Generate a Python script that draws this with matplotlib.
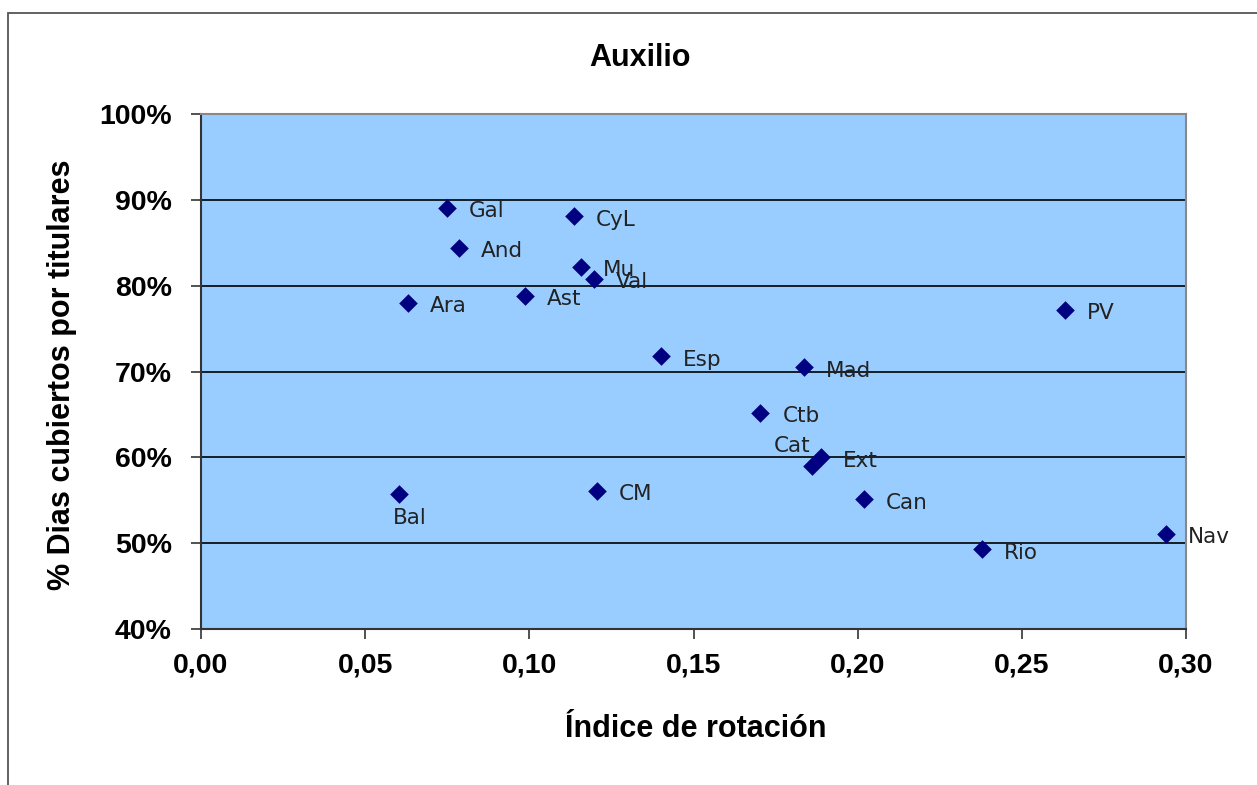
import matplotlib
matplotlib.use("Agg")
import matplotlib.pyplot as plt
from matplotlib.patches import Rectangle
from matplotlib.ticker import FuncFormatter

regions = ["Gal", "CyL", "And", "Mu", "Val", "Ast", "Ara", "PV", "Esp", "Mad",
           "Ctb", "Ext", "Cat", "Bal", "CM", "Can", "Rio", "Nav"]
rotation = [0.0749, 0.1136, 0.0786, 0.1157, 0.1197, 0.0987, 0.0630, 0.2631, 0.1401, 0.1837,
            0.1703, 0.1888, 0.1861, 0.0603, 0.1206, 0.2019, 0.2379, 0.2939]
coverage = [0.8905, 0.881, 0.844, 0.822, 0.808, 0.788, 0.780, 0.772, 0.718, 0.705,
            0.652, 0.600, 0.590, 0.557, 0.561, 0.551, 0.493, 0.511]
# label offsets in points (dx, dy, ha, va)
offsets = {"Cat": (-1, 14, "right", "center"), "Bal": (8, -17, "center", "center")}

x_ticks = [0.00, 0.05, 0.10, 0.15, 0.20, 0.25, 0.30]
y_ticks = [0.4, 0.5, 0.6, 0.7, 0.8, 0.9, 1.0]

fig = plt.figure(figsize=(12.57, 7.85), dpi=100)
ax = fig.add_axes([201/1257, 1-629/785, (1186-201)/1257, (629-114)/785])
ax.set_facecolor("#99CCFF")

ax.scatter(rotation, coverage, marker="D", s=90, color="#000080", zorder=3, linewidths=0)
for name, xv, yv in zip(regions, rotation, coverage):
    dx, dy, ha, va = offsets.get(name, (16, -2.5, "left", "center"))
    ax.annotate(name, (xv, yv), xytext=(dx, dy), textcoords="offset points",
                ha=ha, va=va, fontsize=15.5, color="#222222", family="DejaVu Sans", zorder=4)

ax.set_xlim(0, 0.30)
ax.set_ylim(0.4, 1.0)
ax.set_xticks(x_ticks)
ax.set_yticks(y_ticks)
ax.xaxis.set_major_formatter(FuncFormatter(lambda v, p: f"{v:.2f}".replace(".", ",")))
ax.yaxis.set_major_formatter(FuncFormatter(lambda v, p: f"{v*100:.0f}%"))
for lab in ax.get_xticklabels() + ax.get_yticklabels():
    lab.set_family("Liberation Sans")
    lab.set_fontweight("bold")
    lab.set_fontsize(20.5)
ax.tick_params(axis="both", direction="out", length=7, width=1.2, color="#333333")
ax.tick_params(axis="y", pad=14)
ax.tick_params(axis="x", pad=10)
ax.grid(axis="y", color="black", linewidth=1.2, zorder=1)
ax.set_axisbelow(True)
for side in ["left", "bottom"]:
    ax.spines[side].set_color("#333333")
    ax.spines[side].set_linewidth(1.5)
for side in ["top", "right"]:
    ax.spines[side].set_color("#888888")
    ax.spines[side].set_linewidth(1.5)

fig.text((590+690)/2/1257, 1-58/785, "Auxilio", ha="center", va="center",
         family="Liberation Sans", fontweight="bold", fontsize=22)
fig.text(696/1257, 1-729/785, "Índice de rotación", ha="center", va="center",
         family="Liberation Sans", fontweight="bold", fontsize=22)
fig.text(62/1257, 1-(160+590)/2/785, "% Dias cubiertos por titulares", ha="center", va="center",
         rotation=90, family="Liberation Sans", fontweight="bold", fontsize=22)

fig.patches.append(Rectangle((8/1257, -0.1), 1.2, 1-13/785+0.1, transform=fig.transFigure,
                             fill=False, edgecolor="#555555", linewidth=1.3))

fig.savefig("out.png", dpi=100)
